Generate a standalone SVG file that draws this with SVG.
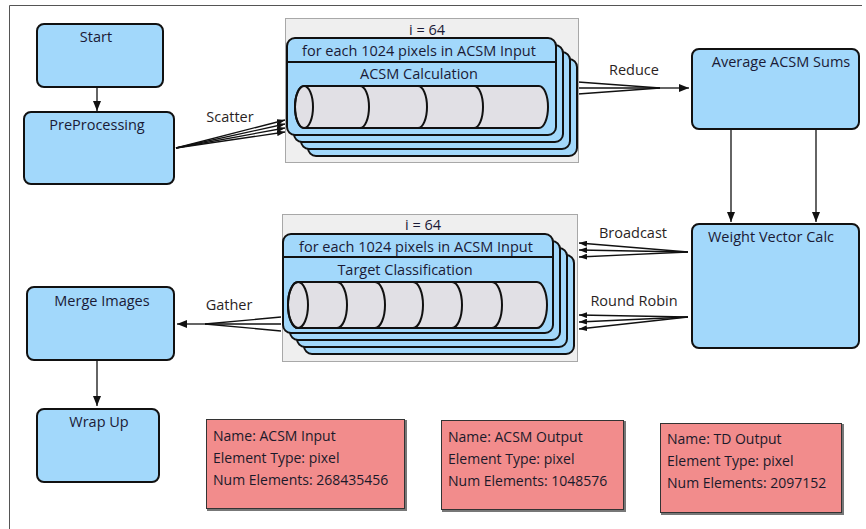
<svg xmlns="http://www.w3.org/2000/svg" width="866" height="529" viewBox="0 0 866 529">
  <style>
    text { font-family: "Open Sans", "Noto Sans", "DejaVu Sans", sans-serif; font-size: 14.5px; fill: #1a1a36; }
    .mid { text-anchor: middle; }
    .lbl { fill: #2a1f1f; }
    .dtxt { font-size: 14px; fill: #1a1a2a; }
    .node { fill: #a2d8fb; stroke: #111; stroke-width: 2; }
    .card { fill: #a2d8fb; stroke: #111; stroke-width: 2; }
    .frame { fill: #efefef; stroke: #a8a8a8; stroke-width: 1; }
    .cyl { fill: #e1e0e5; stroke: #111; stroke-width: 2; }
    .div { fill: none; stroke: #111; stroke-width: 2; }
    .edge { fill: none; stroke: #111; stroke-width: 1.3; }
    .data { fill: #f28c8c; stroke: #333; stroke-width: 1; }
    .shadow { fill: none; stroke: #777; stroke-width: 2; }
  </style>
  <defs>
    <marker id="ah" viewBox="0 0 10 8" refX="10" refY="4" markerWidth="10" markerHeight="8" orient="auto" markerUnits="userSpaceOnUse">
      <path d="M0,0 L10,4 L0,8 z" fill="#111"/>
    </marker>
    <marker id="ahs" viewBox="0 0 8 6" refX="8" refY="3" markerWidth="8" markerHeight="6" orient="auto" markerUnits="userSpaceOnUse">
      <path d="M0,0 L8,3 L0,6 z" fill="#111"/>
    </marker>
  </defs>

  <rect width="866" height="529" fill="#fff"/>
  <!-- window frame edges -->
  <path d="M9.5,529 V5.5 H862" fill="none" stroke="#555" stroke-width="1"/>

  <!-- connectors -->
  <g id="connectors">
    <path class="edge" d="M97,88 V111" marker-end="url(#ah)"/>
    <g id="scatter">
      <path class="edge" d="M176,148 L285,120" marker-end="url(#ahs)"/>
      <path class="edge" d="M176,148 L285,124" marker-end="url(#ahs)"/>
      <path class="edge" d="M176,148 L285,128" marker-end="url(#ahs)"/>
      <path class="edge" d="M176,148 L285,132" marker-end="url(#ahs)"/>
      <text class="lbl mid" x="230" y="122">Scatter</text>
    </g>
    <g id="reduce">
      <path class="edge" d="M578,82 L660,88"/>
      <path class="edge" d="M578,88 L660,88"/>
      <path class="edge" d="M578,94 L660,88"/>
      <path class="edge" d="M660,88 L689,88" marker-end="url(#ah)"/>
      <text class="lbl mid" x="634" y="75">Reduce</text>
    </g>
    <path class="edge" d="M731,130 V222" marker-end="url(#ah)"/>
    <path class="edge" d="M816,130 V222" marker-end="url(#ah)"/>
    <g id="broadcast">
      <path class="edge" d="M688,252 L579,243" marker-end="url(#ahs)"/>
      <path class="edge" d="M688,252 L579,250" marker-end="url(#ahs)"/>
      <path class="edge" d="M688,252 L579,257" marker-end="url(#ahs)"/>
      <text class="lbl mid" x="633" y="238">Broadcast</text>
    </g>
    <g id="round-robin">
      <path class="edge" d="M688,317 L579,315" marker-end="url(#ahs)"/>
      <path class="edge" d="M688,317 L579,322" marker-end="url(#ahs)"/>
      <path class="edge" d="M688,317 L579,329" marker-end="url(#ahs)"/>
      <text class="lbl mid" x="634" y="306">Round Robin</text>
    </g>
    <g id="gather">
      <path class="edge" d="M281,317 L205,324"/>
      <path class="edge" d="M281,324 L205,324"/>
      <path class="edge" d="M281,331 L205,324"/>
      <path class="edge" d="M205,324 L177,324" marker-end="url(#ah)"/>
      <text class="lbl mid" x="229" y="310">Gather</text>
    </g>
    <path class="edge" d="M97,361 V406" marker-end="url(#ah)"/>
  </g>

  <!-- process nodes -->
  <g id="start">
    <rect class="node" x="37" y="24" width="126" height="63" rx="7"/>
    <text class="mid" x="96" y="42">Start</text>
  </g>
  <g id="preprocessing">
    <rect class="node" x="24" y="112" width="150" height="72" rx="7"/>
    <text class="mid" x="97" y="130">PreProcessing</text>
  </g>
  <g id="average-acsm-sums">
    <rect class="node" x="692" y="49" width="167" height="80" rx="7"/>
    <text class="mid" x="781" y="67">Average ACSM Sums</text>
  </g>
  <g id="weight-vector-calc">
    <rect class="node" x="692" y="224" width="167" height="124" rx="7"/>
    <text class="mid" x="771" y="242">Weight Vector Calc</text>
  </g>
  <g id="merge-images">
    <rect class="node" x="27" y="287" width="147" height="73" rx="7"/>
    <text class="mid" x="102" y="306">Merge Images</text>
  </g>
  <g id="wrap-up">
    <rect class="node" x="37" y="409" width="122" height="73" rx="7"/>
    <text class="mid" x="99" y="427">Wrap Up</text>
  </g>

  <!-- parallel stage: ACSM calculation -->
  <g id="acsm-calculation">
    <rect class="frame" x="285.5" y="18.5" width="293" height="144"/>
    <text class="mid" x="427" y="35">i = 64</text>
    <rect class="card" x="308" y="59" width="269" height="97" rx="8"/>
    <rect class="card" x="301" y="52" width="269" height="97" rx="8"/>
    <rect class="card" x="294" y="45" width="269" height="97" rx="8"/>
    <rect class="card" x="287" y="38" width="269" height="97" rx="8"/>
    <line x1="287" y1="62" x2="556" y2="62" stroke="#111" stroke-width="2"/>
    <text class="mid" x="419" y="56">for each 1024 pixels in ACSM Input</text>
    <text class="mid" x="419" y="79">ACSM Calculation</text>
    <path class="cyl" d="M304,86 H539 A9,21 0 0 1 539,128 H304 A9,21 0 0 1 304,86 z"/>
    <ellipse class="div" cx="304" cy="107" rx="9" ry="21"/>
    <path class="div" d="M360,86 A9,21 0 0 1 360,128 M418,86 A9,21 0 0 1 418,128 M474,86 A9,21 0 0 1 474,128"/>
  </g>

  <!-- parallel stage: target classification -->
  <g id="target-classification">
    <rect class="frame" x="282.5" y="214.5" width="295" height="147"/>
    <text class="mid" x="423" y="230">i = 64</text>
    <rect class="card" x="304" y="255" width="270" height="99" rx="8"/>
    <rect class="card" x="297" y="248" width="270" height="99" rx="8"/>
    <rect class="card" x="290" y="241" width="270" height="99" rx="8"/>
    <rect class="card" x="283" y="234" width="270" height="99" rx="8"/>
    <line x1="283" y1="257" x2="553" y2="257" stroke="#111" stroke-width="2"/>
    <text class="mid" x="416" y="252">for each 1024 pixels in ACSM Input</text>
    <text class="mid" x="405" y="275">Target Classification</text>
    <path class="cyl" d="M298,282 H537 A10,23 0 0 1 537,328 H298 A10,23 0 0 1 298,282 z"/>
    <ellipse class="div" cx="298" cy="305" rx="10" ry="23"/>
    <path class="div" d="M337,282 A10,23 0 0 1 337,328 M375,282 A10,23 0 0 1 375,328 M413,282 A10,23 0 0 1 413,328 M452,282 A10,23 0 0 1 452,328 M492,282 A10,23 0 0 1 492,328"/>
  </g>

  <!-- data sets -->
  <g id="acsm-input">
    <rect class="data" x="206.5" y="419.5" width="198" height="89"/>
    <path class="shadow" d="M406,420 V510 H207"/>
    <text class="dtxt" x="213" y="441">Name: ACSM Input</text>
    <text class="dtxt" x="213" y="463">Element Type: pixel</text>
    <text class="dtxt" x="213" y="485">Num Elements: 268435456</text>
  </g>
  <g id="acsm-output">
    <rect class="data" x="441.5" y="420.5" width="182" height="89"/>
    <path class="shadow" d="M625,421 V511 H442"/>
    <text class="dtxt" x="448" y="442">Name: ACSM Output</text>
    <text class="dtxt" x="448" y="464">Element Type: pixel</text>
    <text class="dtxt" x="448" y="486">Num Elements: 1048576</text>
  </g>
  <g id="td-output">
    <rect class="data" x="660.5" y="423.5" width="181" height="89"/>
    <path class="shadow" d="M843,424 V514 H661"/>
    <text class="dtxt" x="667" y="444">Name: TD Output</text>
    <text class="dtxt" x="667" y="466">Element Type: pixel</text>
    <text class="dtxt" x="667" y="488">Num Elements: 2097152</text>
  </g>
</svg>
